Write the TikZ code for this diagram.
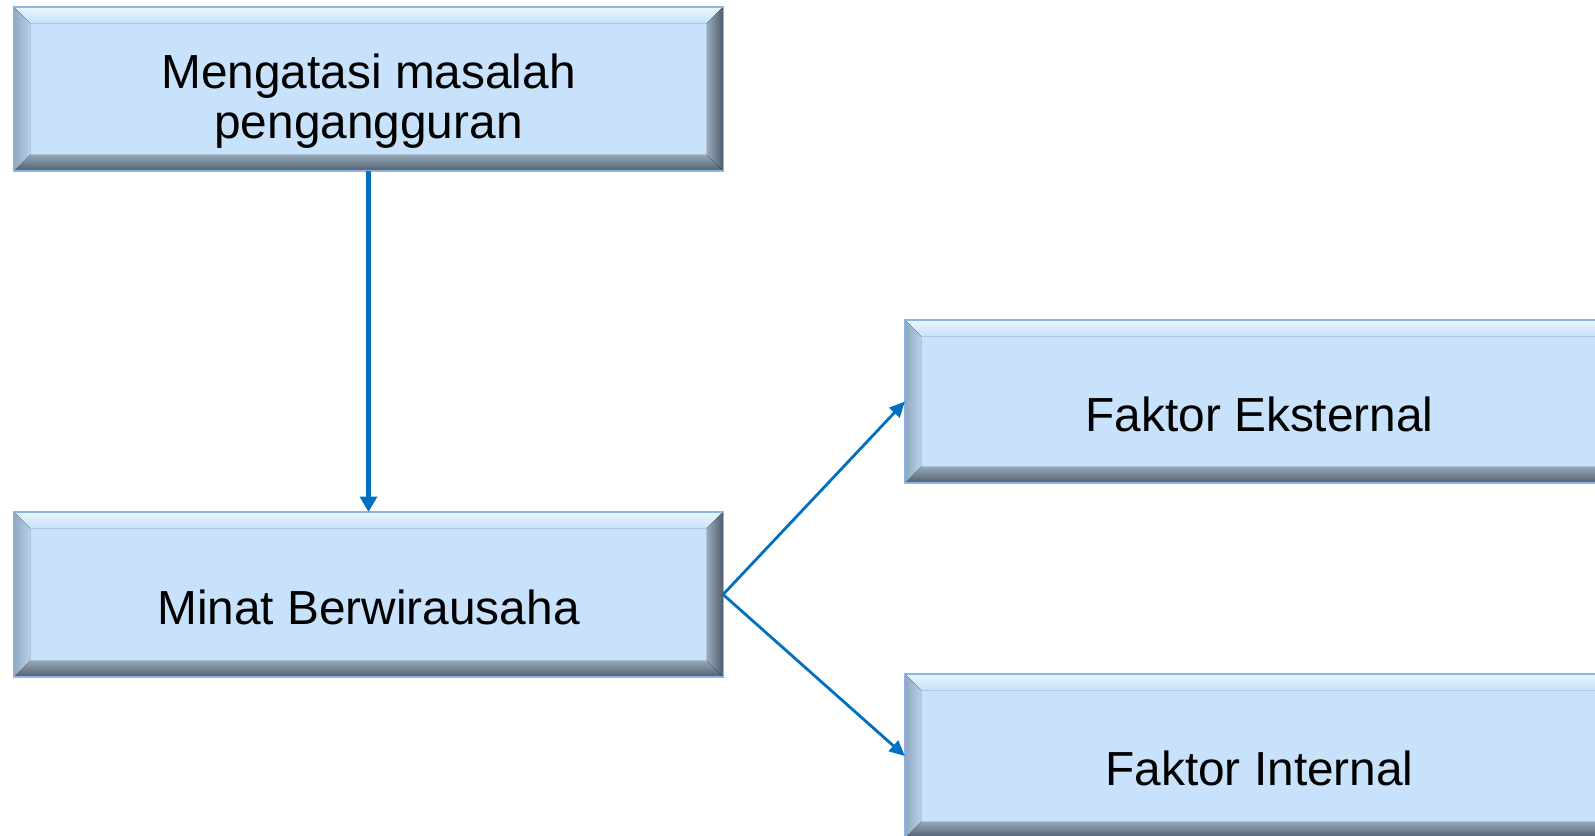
\documentclass[tikz,border=0pt]{standalone}
\usepackage{fontspec}
\setmainfont{Liberation Sans}
\usetikzlibrary{calc, arrows.meta}
\definecolor{faceblue}{HTML}{C7E2FA}
\definecolor{edgeblue}{HTML}{8DB4E2}
\definecolor{arrowblue}{HTML}{0070C0}
\definecolor{bevtop}{HTML}{EAF6FF}
\definecolor{bevbottomA}{HTML}{97A7B6}
\definecolor{bevbottomB}{HTML}{4E5E70}
\definecolor{bevleftA}{HTML}{8FA9C2}
\definecolor{bevleftB}{HTML}{B8D0E8}
\definecolor{bevrightA}{HTML}{98A9B8}
\definecolor{bevrightB}{HTML}{4E5E70}

\tikzset{
    box/.style={fill=faceblue, minimum width=17.725cm, inner sep=0pt, outer sep=0pt,
        align=center, font=\fontsize{34}{36}\selectfont,
        text height=54pt, text depth=12pt},
    link/.style={draw=arrowblue, line width=2pt, -{Triangle[length=11pt,width=10pt]}},
}
\def\bv{11.5pt}
\newcommand{\bevel}[1]{
    \fill[top color=bevtop, bottom color=faceblue] (#1.north west) -- (#1.north east)
        -- ([xshift=-\bv,yshift=-\bv]#1.north east) -- ([xshift=\bv,yshift=-\bv]#1.north west) -- cycle;
    \fill[top color=bevbottomA, bottom color=bevbottomB] (#1.south west) -- (#1.south east)
        -- ([xshift=-\bv,yshift=\bv]#1.south east) -- ([xshift=\bv,yshift=\bv]#1.south west) -- cycle;
    \fill[left color=bevleftA, right color=bevleftB] (#1.north west) -- ([xshift=\bv,yshift=-\bv]#1.north west)
        -- ([xshift=\bv,yshift=\bv]#1.south west) -- (#1.south west) -- cycle;
    \fill[left color=bevrightA, right color=bevrightB] (#1.north east) -- ([xshift=-\bv,yshift=-\bv]#1.north east)
        -- ([xshift=-\bv,yshift=\bv]#1.south east) -- (#1.south east) -- cycle;
    \draw[edgeblue, line width=0.8pt] (#1.north west) rectangle (#1.south east);
}

\begin{document}
\begin{tikzpicture}[x=0.025cm, y=-0.025cm]
    \clip (0,0) rectangle (1595,835);
    \fill[white] (0,0) rectangle (1595,835);

    \node[box, minimum height=4.1cm, text height=83pt, text depth=12pt] (masalah) at (368.5,89) {Mengatasi masalah\\pengangguran};
    \node[box, minimum height=4.125cm] (minat) at (368.5,594.5) {Minat Berwirausaha};
    \node[box, minimum height=4.075cm] (eksternal) at (1259.5,401.5) {Faktor Eksternal};
    \node[box, minimum height=4.1cm] (internal) at (1259.5,756) {Faktor Internal};

    \bevel{masalah}
    \bevel{minat}
    \bevel{eksternal}
    \bevel{internal}

    \draw[link, line width=3.5pt, -{Triangle[length=11pt,width=12pt]}] (masalah) -- (minat);
    \draw[link] (minat.east) -- (eksternal.west);
    \draw[link] (minat.east) -- (internal.west);
\end{tikzpicture}
\end{document}
